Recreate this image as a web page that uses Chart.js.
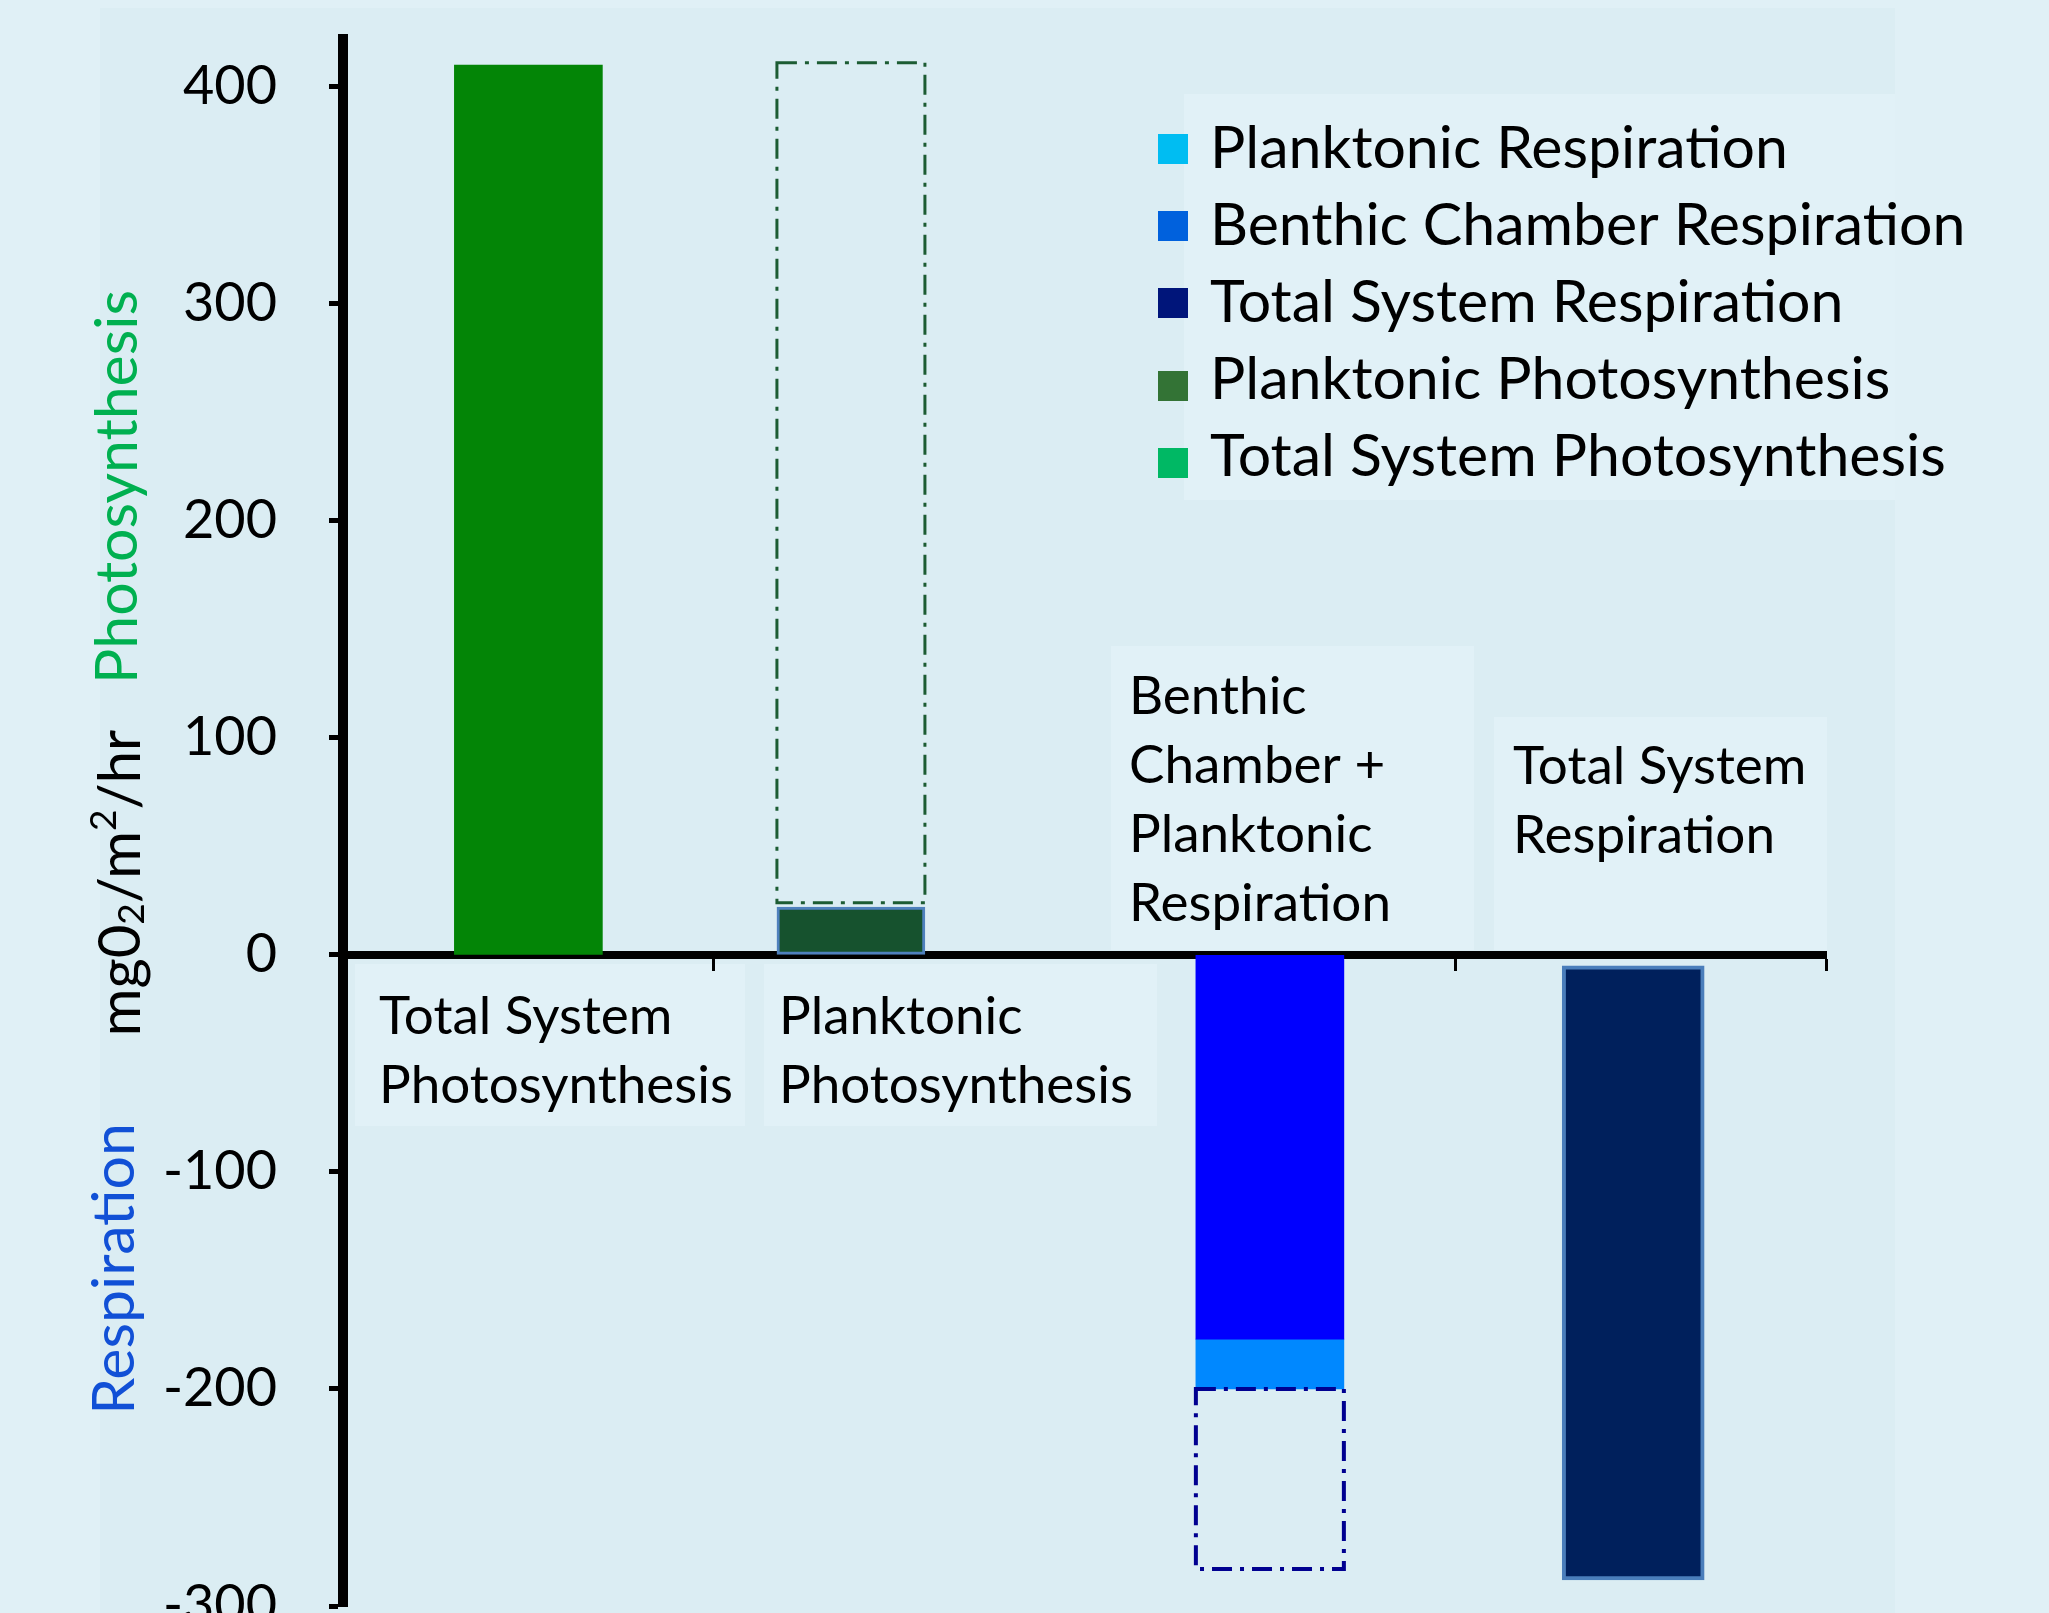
<!DOCTYPE html>
<html>
<head>
<meta charset="utf-8">
<script src="https://cdn.jsdelivr.net/npm/chart.js@4/dist/chart.umd.min.js"></script>
<style>
  html, body { margin: 0; padding: 0; background: #e0f0f6; }
  #wrap { width: 2049px; height: 1613px; }
</style>
</head>
<body>
<div id="wrap"><canvas id="chart" width="2049" height="1613"></canvas></div>
<script>
// categories and where their bars sit on the x axis (bar 2 sits left of its slot)
const categories = [
  "Total System Photosynthesis",
  "Planktonic Photosynthesis",
  "Benthic Chamber + Planktonic Respiration",
  "Total System Respiration",
];
const barPositions = [1, 1.87, 3, 3.98];

// floating bars [start, end] in mgO2/m2/hr
const totalSystemPhotosynthesis = [0, 410];
const planktonicPhotosynthesis = [0, 22];
const photosynthesisOutline = [24, 411];
const benthicChamberRespiration = [0, -177];
const planktonicRespiration = [-177, -200];
const respirationOutline = [-200, -283];
const totalSystemRespiration = [-5, -288];

const yTickValues = [-300, -200, -100, 0, 100, 200, 300, 400];
const xTickValues = [1.5, 3.5, 4.5];

const legendLabels = [
  "Planktonic Respiration",
  "Benthic Chamber Respiration",
  "Total System Respiration",
  "Planktonic Photosynthesis",
  "Total System Photosynthesis",
];
const legendColors = ["#00bdf2", "#0061dd", "#00157a", "#337335", "#00b864"];

const FONT = "Lato, 'Open Sans', sans-serif";

// text boxes drawn by hand (category labels)
const labelLayout = [
  { lines: ["Total System", "Photosynthesis"], x: 379, y: 1017, box: [355, 964, 390, 162] },
  { lines: ["Planktonic", "Photosynthesis"], x: 779, y: 1017, box: [764, 964, 393, 162] },
  { lines: ["Benthic", "Chamber +", "Planktonic", "Respiration"], x: 1129, y: 697, box: [1111, 646, 363, 304] },
  { lines: ["Total System", "Respiration"], x: 1513, y: 767, box: [1494, 717, 333, 233] },
];

const point = (i, range) => [{ x: barPositions[i], y: range }];

const backdrop = {
  id: "backdrop",
  beforeDraw(chart) {
    const { ctx, width, height } = chart;
    ctx.save();
    ctx.fillStyle = "#e0f0f6";
    ctx.fillRect(0, 0, width, height);
    ctx.fillStyle = "#dbedf3";
    ctx.fillRect(100, 8, 1795, height - 8);
    ctx.fillStyle = "#e1f1f7";
    labelLayout.forEach((l) => ctx.fillRect(...l.box));
    ctx.fillRect(1184, 94, 711, 406); // legend box
    ctx.restore();
  },
};

// dash-dot outlines for the "ghost" bars (bar elements can't dash their border)
const dashedBars = {
  id: "dashedBars",
  afterDatasetsDraw(chart) {
    const ctx = chart.ctx;
    chart.data.datasets.forEach((ds, i) => {
      if (!ds.outline) return;
      chart.getDatasetMeta(i).data.forEach((bar) => {
        const { x, y, base, width } = bar.getProps(["x", "y", "base", "width"], true);
        ctx.save();
        ctx.strokeStyle = ds.outline.color;
        ctx.lineWidth = ds.outline.width;
        ctx.setLineDash([20, 8, 4, 8]);
        ctx.strokeRect(x - width / 2, Math.min(y, base), width, Math.abs(base - y));
        ctx.restore();
      });
    });
  },
};

const annotations = {
  id: "annotations",
  afterDraw(chart) {
    const ctx = chart.ctx;
    ctx.save();
    ctx.fillStyle = "#000";
    ctx.textBaseline = "middle";
    ctx.textAlign = "left";
    ctx.font = "53px " + FONT;
    labelLayout.forEach((l) => {
      l.lines.forEach((t, k) => ctx.fillText(t, l.x, l.y + k * 69));
    });

    // legend
    ctx.font = "59px " + FONT;
    legendLabels.forEach((t, k) => {
      const cy = 149 + k * 77;
      ctx.fillStyle = legendColors[k];
      ctx.fillRect(1158, cy - 15 + (k > 2 ? 6 : 0), 30, 30);
      ctx.fillStyle = "#000";
      ctx.fillText(t, 1210, cy);
    });

    // rotated axis titles
    const rotated = (cx, cy, draw) => {
      ctx.save();
      ctx.translate(cx, cy);
      ctx.rotate(-Math.PI / 2);
      draw();
      ctx.restore();
    };
    ctx.textAlign = "center";
    ctx.font = "59px " + FONT;
    rotated(118, 487, () => {
      ctx.fillStyle = "#00b050";
      ctx.fillText("Photosynthesis", 0, 0);
    });
    rotated(115, 1269, () => {
      ctx.fillStyle = "#1150d6";
      ctx.fillText("Respiration", 0, 0);
    });
    rotated(121, 883, () => {
      const parts = [
        { t: "mg0", s: 58, dy: 0 },
        { t: "2", s: 37, dy: 11 },
        { t: "/m", s: 58, dy: 0 },
        { t: "2", s: 37, dy: -17 },
        { t: "/hr", s: 58, dy: 0 },
      ];
      let total = 0;
      parts.forEach((p) => { ctx.font = p.s + "px " + FONT; p.w = ctx.measureText(p.t).width; total += p.w; });
      let x = -total / 2;
      ctx.textAlign = "left";
      ctx.fillStyle = "#000";
      parts.forEach((p) => {
        ctx.font = p.s + "px " + FONT;
        ctx.fillText(p.t, x, p.dy);
        x += p.w;
      });
    });
    ctx.restore();
  },
};

new Chart(document.getElementById("chart"), {
  type: "bar",
  data: {
    datasets: [
      { label: "Total System Photosynthesis", data: point(0, totalSystemPhotosynthesis), backgroundColor: "#038506", borderWidth: 0 },
      { label: "Planktonic Photosynthesis", data: point(1, planktonicPhotosynthesis), backgroundColor: "#16522e", borderColor: "#4f81bd", borderWidth: 3, borderSkipped: false },
      { label: "photosynthesis outline", data: point(1, photosynthesisOutline), backgroundColor: "rgba(0,0,0,0)", borderWidth: 0, outline: { color: "#1c5c33", width: 3 } },
      { label: "Benthic Chamber Respiration", data: point(2, benthicChamberRespiration), backgroundColor: "#0000ff", borderWidth: 0 },
      { label: "Planktonic Respiration", data: point(2, planktonicRespiration), backgroundColor: "#0088ff", borderWidth: 0 },
      { label: "respiration outline", data: point(2, respirationOutline), backgroundColor: "rgba(0,0,0,0)", borderWidth: 0, outline: { color: "#000090", width: 4 } },
      { label: "Total System Respiration", data: point(3, totalSystemRespiration), backgroundColor: "#00205c", borderColor: "#4a7ebb", borderWidth: 4, borderSkipped: false, barThickness: 142 },
    ],
  },
  options: {
    responsive: false,
    animation: false,
    layout: { padding: { top: 39, right: 223, bottom: 7, left: 0 } },
    datasets: { bar: { grouped: false, barThickness: 148 } },
    plugins: { legend: { display: false }, tooltip: { enabled: false } },
    scales: {
      x: {
        type: "linear",
        min: 0.5,
        max: 4.5,
        offset: false,
        position: { y: 0 },
        z: 1,
        afterBuildTicks: (s) => { s.ticks = xTickValues.map((v) => ({ value: v })); },
        ticks: { display: false },
        grid: { offset: false, drawOnChartArea: false, tickLength: 12, tickWidth: 3, color: "#000", tickColor: "#000" },
        border: { color: "#000", width: 8 },
      },
      y: {
        min: -300,
        max: 422,
        z: 1,
        afterBuildTicks: (s) => { s.ticks = yTickValues.map((v) => ({ value: v })); },
        afterFit: (s) => { s.width = 343; s.paddingTop = 0; s.paddingBottom = 0; },
        ticks: { color: "#000", font: { family: FONT, size: 54 }, padding: 52 },
        grid: { drawOnChartArea: false, tickLength: 14, tickWidth: 5, color: "#000", tickColor: "#000" },
        border: { color: "#000", width: 10 },
      },
    },
  },
  plugins: [backdrop, dashedBars, annotations],
});
</script>
</body>
</html>
